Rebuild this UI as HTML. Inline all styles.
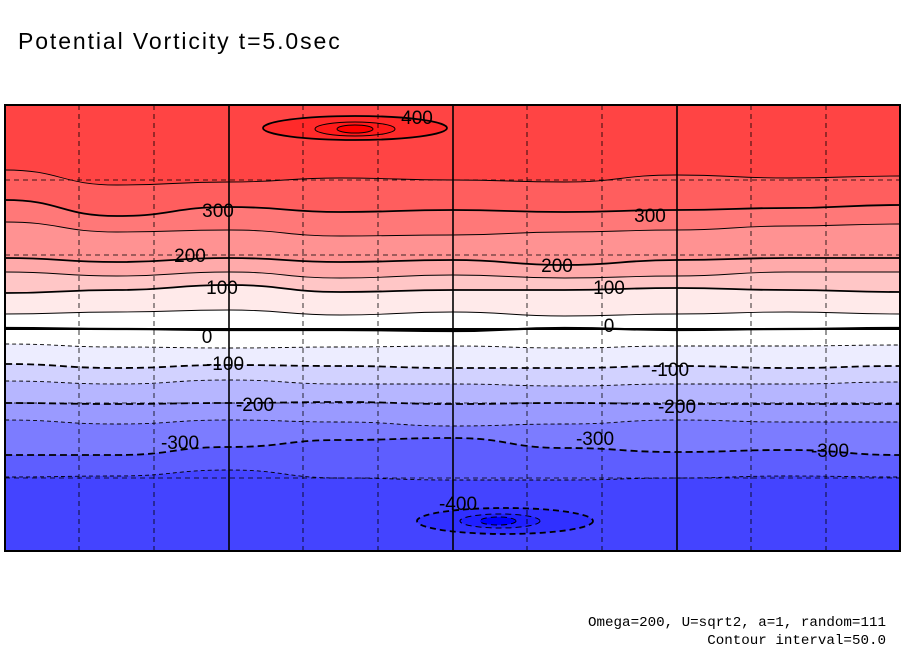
<!DOCTYPE html>
<html><head><meta charset="utf-8"><style>
body{margin:0;background:#fff;width:904px;height:654px;overflow:hidden;font-family:"Liberation Sans",sans-serif}
</style></head><body>
<svg id="chart" width="904" height="654" xmlns="http://www.w3.org/2000/svg">
<text x="18" y="49" font-size="23" letter-spacing="1.9" font-family="Liberation Sans">Potential Vorticity t=5.0sec</text>
<g id="bands"></g><g id="lines"></g><g id="grid"></g><g id="labels"></g>
<rect x="5" y="105" width="895" height="446" fill="none" stroke="#000" stroke-width="2"/>
<text x="886" y="626" font-size="14.2" text-anchor="end" font-family="Liberation Mono">Omega=200, U=sqrt2, a=1, random=111</text>
<text x="886" y="644" font-size="14.2" text-anchor="end" font-family="Liberation Mono">Contour interval=50.0</text>
</svg>
<script>
const levels=[350,300,250,200,150,100,50,0,-50,-100,-150,-200,-250,-300,-350];
const contourLat=[
[170,185,182,178,180,182,175,178,176],
[200,216,207,212,210,212,210,208,205],
[222,232,230,236,235,232,230,226,224],
[258,262,258,262,260,265,260,258,258],
[272,276,272,278,275,278,276,272,272],
[293,290,285,292,290,290,288,290,292],
[314,312,310,315,312,316,314,312,314],
[328,329,330,330,331,328,330,329,328],
[344,347,348,347,346,348,346,346,345],
[364,368,365,366,368,368,366,368,366],
[381,384,380,384,384,386,384,384,382],
[403,404,403,402,404,403,404,404,404],
[420,424,420,422,426,424,420,422,422],
[455,455,447,440,438,448,452,450,455],
[477,476,470,478,480,480,478,476,477]];
const levelColors=["#ff4444","#ff5e5e","#ff7878","#ff9292","#ffaaaa","#ffc6c6","#ffeaea","#ffffff","#ffffff","#ededff","#d2d2ff","#b6b6ff","#9a9aff","#7c7cff","#5e5eff","#4444ff"];
const labelText=["400","300","300","200","200","100","100","0","0","-100","-100","-200","-200","-300","-300","-300","-400"];
const labelPos=[[417,117],[218,210],[650,215],[190,255],[557,265],[222,287],[609,287],[207,336],[609,325],[225,363],[670,369],[255,404],[677,406],[180,442],[595,438],[830,450],[458,503]];
const X0=5,X1=900,Y0=105,Y1=551,ns="http://www.w3.org/2000/svg";
const xAt=i=>X0+(X1-X0)*i/(contourLat[0].length-1);
function mk(t,a){const e=document.createElementNS(ns,t);for(const k in a)e.setAttribute(k,a[k]);return e;}
const bands=document.getElementById('bands'),lines=document.getElementById('lines'),grid=document.getElementById('grid'),labels=document.getElementById('labels');
let bg=mk('rect',{x:X0,y:Y0,width:X1-X0,height:Y1-Y0,fill:levelColors[0]});


bands.appendChild(bg);
function pathFor(row){let d='M'+xAt(0)+','+row[0];for(let i=1;i<row.length;i++){const xm=(xAt(i-1)+xAt(i))/2;d+=' C'+xm+','+row[i-1]+' '+xm+','+row[i]+' '+xAt(i)+','+row[i];}return d;}
contourLat.forEach((row,k)=>{
 const p=mk('path',{d:pathFor(row)+' L'+X1+','+Y1+' L'+X0+','+Y1+' Z',fill:levelColors[k+1]});
 
 
 bands.appendChild(p);
});
contourLat.forEach((row,k)=>{
 const lv=levels[k];const thick=lv%100===0;
 const l=mk('path',{d:pathFor(row),fill:'none',stroke:'#000','stroke-width':lv===0?2.2:(thick?1.8:0.9),'stroke-dasharray':lv<0?(thick?'7,4':'4,3'):'none'});
 
 
 lines.appendChild(l);
});
[[355,128,92,12,'#ff2a2a',false],[355,129,40,7,'#ff1a1a',false],[355,129,18,4,'#ff0000',false],[505,521,88,13,'#3030ff',true],[500,521,40,7,'#2020ff',true],[498,521,18,4,'#0000ff',true]].forEach((e,i)=>{
 const el=mk('ellipse',{cx:e[0],cy:e[1],rx:e[2],ry:e[3],fill:e[4],stroke:'#000','stroke-width':i%3===0?1.8:1,'stroke-dasharray':e[5]?'6,4':'none'});
 
 
 lines.appendChild(el);
});
[79,154,303,378,527,602,751,826].forEach(x=>{const g=mk('line',{x1:x,y1:Y0,x2:x,y2:Y1,stroke:'#000','stroke-width':0.8,'stroke-dasharray':'5,4'});grid.appendChild(g);});
[229,453,677].forEach(x=>{const g=mk('line',{x1:x,y1:Y0,x2:x,y2:Y1,stroke:'#000','stroke-width':1.6});grid.appendChild(g);});
[180,255,403,478].forEach(y=>{const g=mk('line',{x1:X0,y1:y,x2:X1,y2:y,stroke:'#000','stroke-width':0.8,'stroke-dasharray':'5,4'});grid.appendChild(g);});
{const g=mk('line',{x1:X0,y1:329,x2:X1,y2:329,stroke:'#000','stroke-width':2});grid.appendChild(g);}
labelText.forEach((t,i)=>{
 const tx=mk('text',{x:labelPos[i][0],y:labelPos[i][1]+7,'font-size':19,'text-anchor':'middle','font-family':'Liberation Sans'});
 tx.textContent=t;
 
 
 labels.appendChild(tx);
});
</script>
</body></html>
